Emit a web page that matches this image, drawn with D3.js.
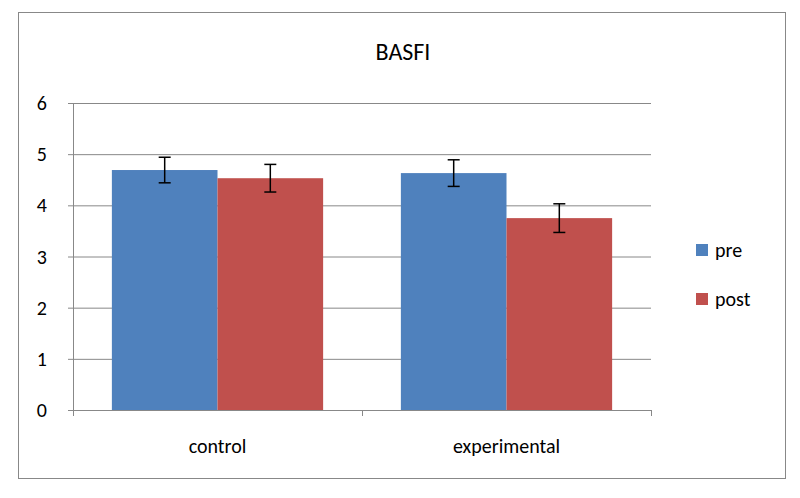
<!DOCTYPE html>
<html><head><meta charset="utf-8">
<script src="https://cdn.jsdelivr.net/npm/d3@7"></script>
<style>body{margin:0;background:#fff}svg{font-family:Calibri,Carlito,"Liberation Sans",sans-serif}</style>
</head><body>
<svg id="chart" width="800" height="498"></svg>
<script>
// chart values
const categories = ["control", "experimental"];
const seriesNames = ["pre", "post"];
const preValues = [4.69, 4.63];
const postValues = [4.53, 3.75];
const preErr = [0.25, 0.26];
const postErr = [0.27, 0.28];
const yTicks = [0, 1, 2, 3, 4, 5, 6];
const colors = ["#4f81bd", "#c0504d"];

const svg = d3.select("#chart");
svg.append("rect").attr("x", 18.5).attr("y", 12.5).attr("width", 767).attr("height", 466)
  .attr("fill", "#fff").attr("stroke", "#888");

svg.append("text").attr("x", 403).attr("y", 60).attr("text-anchor", "middle")
  .attr("font-size", 24).text("BASFI");

const pLeft = 73, pRight = 651, pTop = 103, pBottom = 410;
const y = d3.scaleLinear().domain([0, 6]).range([pBottom, pTop]);
const x = d3.scaleBand().domain(categories).range([pLeft, pRight]);
const xs = d3.scaleBand().domain(seriesNames).range([0, x.bandwidth()]).paddingOuter(0.368);

svg.append("g").selectAll("line").data(yTicks).join("line")
  .attr("x1", pLeft - 5).attr("x2", pRight).attr("y1", d => y(d) + 0.5).attr("y2", d => y(d) + 0.5)
  .attr("stroke", "#888").attr("stroke-width", 1);
svg.append("line").attr("x1", pLeft + 0.5).attr("x2", pLeft + 0.5).attr("y1", pTop).attr("y2", pBottom)
  .attr("stroke", "#888");
svg.append("g").selectAll("line").data(d3.range(categories.length + 1)).join("line")
  .attr("x1", i => pLeft + i * x.step() + 0.5).attr("x2", i => pLeft + i * x.step() + 0.5)
  .attr("y1", pBottom).attr("y2", pBottom + 6).attr("stroke", "#888");
svg.append("g").selectAll("text").data(yTicks).join("text")
  .attr("x", 47).attr("y", d => y(d) + 7).attr("text-anchor", "end")
  .attr("font-size", 20).text(d => d);
svg.append("g").selectAll("text").data(categories).join("text")
  .attr("x", d => x(d) + x.bandwidth() / 2).attr("y", 453).attr("text-anchor", "middle")
  .attr("font-size", 20).text(d => d);

const series = [
  { name: "pre", vals: preValues, err: preErr },
  { name: "post", vals: postValues, err: postErr }
];
series.forEach((s, si) => {
  const g = svg.append("g");
  categories.forEach((c, ci) => {
    const bx = x(c) + xs(s.name);
    g.append("rect").attr("x", bx).attr("width", xs.bandwidth())
      .attr("y", y(s.vals[ci])).attr("height", pBottom - y(s.vals[ci])).attr("fill", colors[si]);
    const cx = bx + xs.bandwidth() / 2;
    const y1 = y(s.vals[ci] + s.err[ci]), y2 = y(s.vals[ci] - s.err[ci]);
    g.append("line").attr("x1", cx).attr("x2", cx).attr("y1", y1).attr("y2", y2).attr("stroke", "#000").attr("stroke-width", 1.5);
    [y1, y2].forEach(v => g.append("line").attr("x1", cx - 6).attr("x2", cx + 6).attr("y1", v).attr("y2", v).attr("stroke", "#000").attr("stroke-width", 1.5));
  });
});

const leg = svg.append("g").selectAll("g").data(seriesNames).join("g")
  .attr("transform", (d, i) => `translate(696,${250 + i * 49})`);
leg.append("rect").attr("y", -6).attr("width", 12).attr("height", 12).attr("fill", (d, i) => colors[i]);
leg.append("text").attr("x", 19).attr("y", 7).attr("font-size", 20).text(d => d);
</script>
</body></html>
